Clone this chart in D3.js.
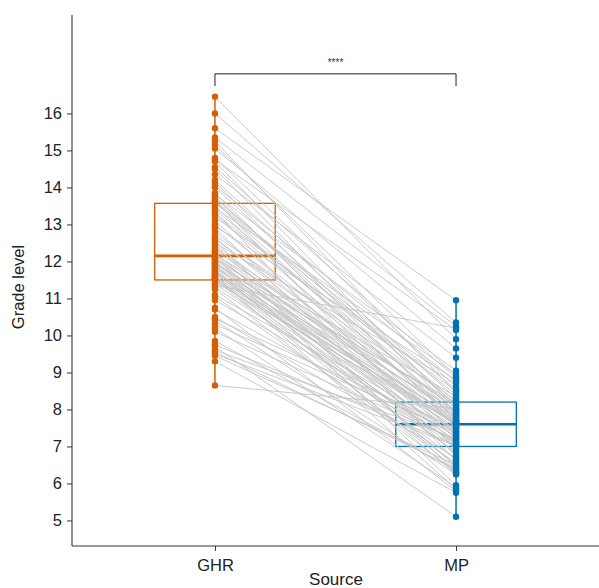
<!DOCTYPE html>
<html><head><meta charset="utf-8">
<script src="https://cdn.jsdelivr.net/npm/d3@7/dist/d3.min.js"></script>
<style>body{margin:0;background:#fff}svg{display:block}</style>
</head><body>
<svg id="c" width="599" height="588"></svg>
<script>
const categories = ["GHR", "MP"];
const ghr = [16.45,16.0,15.6,15.35,15.25,15.15,15.05,14.8,14.75,14.7,14.55,14.5,14.35,14.2,14.15,14.05,14.0,13.85,13.8,13.75,13.7,13.65,13.62,13.6,13.58,
13.5,13.45,13.4,13.35,13.3,13.25,13.2,13.1,13.0,12.95,12.9,12.8,12.7,12.65,12.6,12.55,12.5,12.45,12.4,12.35,12.3,12.25,12.2,12.18,12.15,
12.12,12.1,12.08,12.05,12.0,11.98,11.95,11.92,11.9,11.88,11.85,11.8,11.78,11.75,11.72,11.7,11.68,11.65,11.62,11.6,11.58,11.55,11.53,11.52,11.5,
11.45,11.4,11.35,11.3,11.25,11.1,11.05,10.95,10.75,10.7,10.5,10.45,10.4,10.3,10.2,10.1,9.85,9.75,9.7,9.6,9.55,9.5,9.45,9.3,8.65];
const mp = [9.9,10.35,10.95,10.25,8.45,8.9,9.65,8.6,10.15,8.0,8.85,7.9,9.4,8.3,7.7,8.75,8.1,7.5,9.05,7.85,8.2,6.9,8.55,7.65,8.4,
7.3,8.95,7.95,6.6,8.15,7.75,8.5,7.2,7.8,8.8,6.75,7.6,8.25,7.4,7.92,6.3,8.7,7.55,7.1,8.05,7.82,6.45,7.68,8.35,7.35,
5.95,7.88,7.0,8.12,7.45,6.8,7.72,8.18,6.5,7.62,7.25,7.98,6.25,7.58,7.15,7.78,6.95,7.64,5.85,7.32,7.66,6.65,7.52,7.06,6.4,
7.61,6.85,10.2,7.08,6.3,7.42,6.55,7.28,5.8,7.12,6.7,7.48,6.25,7.38,5.9,7.18,6.35,7.04,5.1,7.22,6.4,7.02,6.5,5.75,8.02];
const boxQ1 = [11.5, 7.0];
const boxMedian = [12.15, 7.6];
const boxQ3 = [13.57, 8.2];
const yTicks = [5,6,7,8,9,10,11,12,13,14,15,16];
const signif = "****";
const colors = ["#D55E00", "#0072B2"];

const svg = d3.select("#c");
const x = d3.scalePoint().domain(categories).range([72, 599]).padding(0.593);
const y = d3.scaleLinear().domain([4.31, 18.66]).range([546, 15]);
const boxW = x.step() * 0.5;
const font = "Liberation Sans, Arial, Helvetica, sans-serif";

// boxes (under lines)
categories.forEach((c, i) => {
  svg.append("rect")
    .attr("x", x(c) - boxW / 2).attr("width", boxW)
    .attr("y", y(boxQ3[i])).attr("height", y(boxQ1[i]) - y(boxQ3[i]))
    .attr("fill", "none").attr("stroke", colors[i]).attr("stroke-width", 1.3);
  svg.append("line")
    .attr("x1", x(c) - boxW / 2).attr("x2", x(c) + boxW / 2)
    .attr("y1", y(boxMedian[i])).attr("y2", y(boxMedian[i]))
    .attr("stroke", colors[i]).attr("stroke-width", 2.6);
});

// paired lines
const pairs = ghr.map((g, i) => [g, mp[i]]);
svg.append("g").selectAll("line").data(pairs).join("line")
  .attr("x1", x("GHR")).attr("x2", x("MP"))
  .attr("y1", d => y(d[0])).attr("y2", d => y(d[1]))
  .attr("stroke", "#c4c4c4").attr("stroke-width", 0.9);

// whiskers and points
[ghr, mp].forEach((vals, i) => {
  const c = categories[i];
  svg.append("line")
    .attr("x1", x(c)).attr("x2", x(c))
    .attr("y1", y(d3.min(vals))).attr("y2", y(d3.max(vals)))
    .attr("stroke", colors[i]).attr("stroke-width", 1.5);
  svg.append("g").selectAll("circle").data(vals).join("circle")
    .attr("cx", x(c)).attr("cy", d => y(d)).attr("r", 3.2)
    .attr("fill", colors[i]);
});

// axes
const yAxis = svg.append("g").attr("transform", "translate(72,0)")
  .call(d3.axisLeft(y).tickValues(yTicks).tickSize(5).tickPadding(5));
const xAxis = svg.append("g").attr("transform", "translate(0,546)")
  .call(d3.axisBottom(x).tickSize(5).tickPadding(8));
[yAxis, xAxis].forEach(a => {
  a.select(".domain").attr("stroke", "#333").attr("stroke-width", 1.1);
  a.selectAll(".tick line").attr("stroke", "#333");
  a.selectAll("text").attr("fill", "#222").style("font-family", font).style("font-size", "16.5px");
});
yAxis.select(".domain").attr("d", `M0,${y.range()[1]}V${y.range()[0]}`);
xAxis.select(".domain").attr("d", `M72,0H599`);

// axis titles
svg.append("text").attr("x", 336).attr("y", 585).attr("text-anchor", "middle")
  .style("font-family", font).style("font-size", "17px").attr("fill", "#222").text("Source");
svg.append("text").attr("transform", `translate(24,287) rotate(-90)`).attr("text-anchor", "middle")
  .style("font-family", font).style("font-size", "16.5px").attr("fill", "#222").text("Grade level");

// significance bracket
const by = 17.07, bt = 16.74;
svg.append("path")
  .attr("d", `M${x("GHR")},${y(bt)}V${y(by)}H${x("MP")}V${y(bt)}`)
  .attr("fill", "none").attr("stroke", "#222").attr("stroke-width", 1);
svg.append("text").attr("x", (x("GHR") + x("MP")) / 2).attr("y", y(by) - 8)
  .attr("text-anchor", "middle").style("font-family", font).style("font-size", "10px")
  .attr("fill", "#333").text(signif);
</script>
</body></html>
